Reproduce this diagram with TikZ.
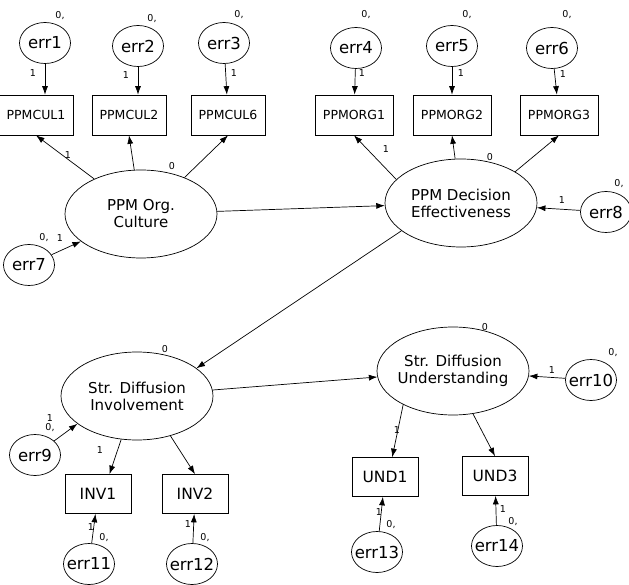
\documentclass[tikz,border=0pt]{standalone}
\usepackage{fontspec}
\setmainfont{DejaVu Sans}
\usetikzlibrary{shapes.geometric,arrows.meta,calc}
\tikzset{
  latent/.style={draw, ellipse, minimum width=152pt, minimum height=88pt, inner xsep=-12pt, inner ysep=0pt, align=center, font=\fontsize{15}{17}\selectfont},
  errv/.style={draw, ellipse, minimum width=51pt, minimum height=41pt, inner sep=0pt, font=\fontsize{16.5}{16.5}\selectfont},
  obsv/.style={draw, rectangle, minimum width=74pt, minimum height=40pt, inner sep=0pt, font=\fontsize{12.5}{12.5}\selectfont},
  obsw/.style={obsv, minimum width=78pt},
  obsb/.style={obsv, minimum width=66pt, minimum height=39pt, font=\fontsize{15.5}{15.5}\selectfont},
  lbl/.style={inner sep=0pt, font=\fontsize{9.5}{9.5}\selectfont},
  reg/.style={-{Latex[length=8.5pt,width=6pt]}, line width=0.7pt}
}
\newcommand{\errtxt}[1]{\makebox[0pt]{#1}}

\begin{document}
\begin{tikzpicture}[x=1pt, y=-1pt, line width=0.7pt]
  \useasboundingbox[fill=white] (0,0) rectangle (629,585);

  % Indicators of the two top factors
  \node[errv] (e1) at (45,43) {\errtxt{err1}};
  \node[errv] (e2) at (138,46) {\errtxt{err2}};
  \node[errv] (e3) at (224,43) {\errtxt{err3}};
  \node[errv] (e4) at (356,48) {\errtxt{err4}};
  \node[errv] (e5) at (452,46) {\errtxt{err5}};
  \node[errv] (e6) at (552,48) {\errtxt{err6}};
  \node[obsv] (cul1) at (36,115) {PPMCUL1};
  \node[obsv] (cul2) at (129,115) {PPMCUL2};
  \node[obsv] (cul6) at (228,115) {PPMCUL6};
  \node[obsw] (org1) at (354,115) {PPMORG1};
  \node[obsw] (org2) at (452,115) {PPMORG2};
  \node[obsw] (org3) at (559,115) {PPMORG3};

  % Factors
  \node[latent] (cult) at (141,214) {PPM Org.\\Culture};
  \node[latent] (dec) at (461,203) {PPM Decision\\Effectiveness};
  \node[latent] (inv) at (137,396) {Str. Diffusion\\Involvement};
  \node[latent] (und) at (453,371) {Str. Diffusion\\Understanding};
  \node[errv] (e7) at (29,265) {\errtxt{err7}};
  \node[errv] (e8) at (606,212) {\errtxt{err8}};
  \node[errv] (e9) at (35,455) {\errtxt{err9}};
  \node[errv] (e10) at (591,380) {\errtxt{err10}};

  % Indicators of the two bottom factors
  \node[obsb] (inv1) at (98,494) {INV1};
  \node[obsb] (inv2) at (195,494) {INV2};
  \node[obsb] (und1) at (385,477) {UND1};
  \node[obsb] (und3) at (495,476) {UND3};
  \node[errv] (e11) at (89,564) {\errtxt{err11}};
  \node[errv] (e12) at (192,564) {\errtxt{err12}};
  \node[errv] (e13) at (377,552) {\errtxt{err13}};
  \node[errv] (e14) at (497,546) {\errtxt{err14}};

  % Paths
  \draw[reg] (e1) -- (e1 |- cul1.north);
  \draw[reg] (e2) -- (e2 |- cul2.north);
  \draw[reg] (e3) -- (cul6);
  \draw[reg] (e4) -- (org1);
  \draw[reg] (e5) -- (org2);
  \draw[reg] (e6) -- (org3);
  \draw[reg] (cult) -- (cul1.south);
  \draw[reg] (cult) -- (cul2.south);
  \draw[reg] (cult.40) -- (cul6.south);
  \draw[reg] (dec.160) -- (org1.south);
  \draw[reg] (dec) -- (org2.south);
  \draw[reg] (dec.30) -- (org3.south);
  \draw[reg] (e7) -- (cult);
  \draw[reg] (e8) -- (dec);
  \draw[reg] (cult) -- (dec);
  \draw[reg] (dec.205) -- (inv.25);
  \draw[reg] (inv) -- (und);
  \draw[reg] (e9) -- (inv.205);
  \draw[reg] (e10) -- (und);
  \draw[reg] (inv.250) -- (inv1.60);
  \draw[reg] (inv.310) -- (inv2.north);
  \draw[reg] (und.214) -- (und1.70);
  \draw[reg] (und.295) -- (und3.north);
  \draw[reg] (e11) -- (inv1);
  \draw[reg] (e12) -- (inv2);
  \draw[reg] (e13) -- (und1);
  \draw[reg] (e14) -- (und3);

  % Estimates
  \node[lbl] (v1) at (60,16) {0,};
  \node[lbl] (v2) at (152,19) {0,};
  \node[lbl] (v3) at (239,15) {0,};
  \node[lbl] (v4) at (366,15) {0,};
  \node[lbl] (v5) at (467,15) {0,};
  \node[lbl] (v6) at (567,15) {0,};
  \node[lbl] (v7) at (44,238) {0,};
  \node[lbl] (v8) at (619,184) {0,};
  \node[lbl] (v9) at (50,428) {0,};
  \node[lbl] (v10) at (613,353) {0,};
  \node[lbl] (v11) at (104,538) {0,};
  \node[lbl] (v12) at (205,538) {0,};
  \node[lbl] (v13) at (391,525) {0,};
  \node[lbl] (v14) at (513,522) {0,};
  \node[lbl] (w1) at (33,73) {1};
  \node[lbl] (w2) at (126,75) {1};
  \node[lbl] (w3) at (234,73) {1};
  \node[lbl] (w4) at (362,73) {1};
  \node[lbl] (w5) at (461,73) {1};
  \node[lbl] (w6) at (563,74) {1};
  \node[lbl] (w7) at (60,238) {1};
  \node[lbl] (w8) at (562,200) {1};
  \node[lbl] (w9) at (50,418) {1};
  \node[lbl] (w10) at (552,370) {1};
  \node[lbl] (w11) at (91,527) {1};
  \node[lbl] (w12) at (188,524) {1};
  \node[lbl] (w13) at (379,512) {1};
  \node[lbl] (w14) at (503,509) {1};
  \node[lbl] (l1) at (68,155) {1};
  \node[lbl] (l2) at (172,166) {0};
  \node[lbl] (l3) at (386,149) {1};
  \node[lbl] (l4) at (490,157) {0};
  \node[lbl] (l5) at (165,349) {0};
  \node[lbl] (l6) at (100,450) {1};
  \node[lbl] (l7) at (485,327) {0};
  \node[lbl] (l8) at (397,430) {1};
\end{tikzpicture}
\end{document}
